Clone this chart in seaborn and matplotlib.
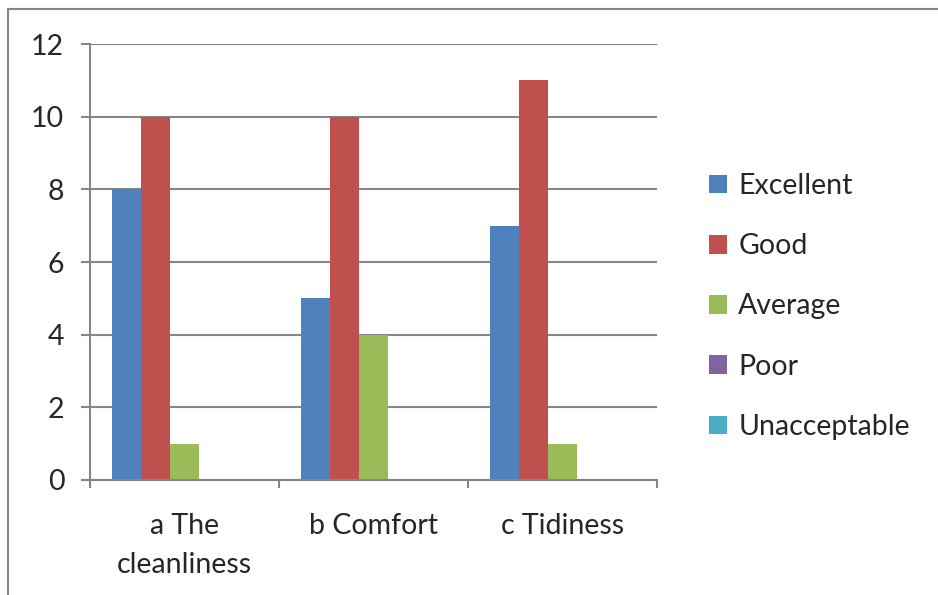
import matplotlib
matplotlib.use('Agg')
import matplotlib.pyplot as plt
import seaborn as sns
import pandas as pd
from matplotlib.patches import Rectangle

categories = ['a The\ncleanliness', 'b Comfort', 'c Tidiness']
series = ['Excellent', 'Good', 'Average', 'Poor', 'Unacceptable']
excellent = [8, 5, 7]
good = [10, 10, 11]
average = [1, 4, 1]
poor = [0, 0, 0]
unacceptable = [0, 0, 0]
colors = ['#4F81BD', '#C0504D', '#9BBB59', '#8064A2', '#4BACC6']

values = [excellent, good, average, poor, unacceptable]
rows = []
for name, vals in zip(series, values):
    for cat, v in zip(categories, vals):
        rows.append({'Category': cat, 'Rating': name, 'Count': v})
data = pd.DataFrame(rows)

sns.set_style('white')
plt.rcParams['font.family'] = ['Lato', 'DejaVu Sans']
grid_color = '#868686'
fs = 20.5

fig = plt.figure(figsize=(9.38, 5.95), dpi=100)
ax = fig.add_axes([90 / 938, 1 - 480 / 595, (657 - 90) / 938, (480 - 44) / 595])

sns.barplot(data=data, x='Category', y='Count', hue='Rating',
            hue_order=series, palette=colors, width=5 / 6.5,
            saturation=1, edgecolor='none', linewidth=0, ax=ax)

ax.set_xlim(-0.5, 2.5)
ax.set_ylim(0, 12)
ax.set_yticks(range(0, 13, 2))
ax.set_xlabel('')
ax.set_ylabel('')
ax.set_axisbelow(True)
ax.grid(axis='y', color=grid_color, linewidth=1.5)
ax.grid(axis='x', visible=False)

for side in ['top', 'right']:
    ax.spines[side].set_visible(False)
for side in ['left', 'bottom']:
    ax.spines[side].set_color(grid_color)
    ax.spines[side].set_linewidth(1.5)

# category separators as minor ticks
ax.set_xticks([-0.5, 0.5, 1.5, 2.5], minor=True)
ax.tick_params(axis='x', which='minor', length=6, width=1.5, color=grid_color,
               direction='out', bottom=True)
ax.tick_params(axis='x', which='major', length=0, pad=24, labelsize=fs)
ax.tick_params(axis='y', length=6.5, width=1.5, color=grid_color, left=True,
               pad=12, labelsize=fs)
for lbl in ax.get_xticklabels():
    lbl.set_linespacing(1.6)

handles, labels = ax.get_legend_handles_labels()
ax.legend(handles, labels, loc='center left',
          bbox_to_anchor=(709 / 938, 1 - 306.5 / 595),
          bbox_transform=fig.transFigure, frameon=False, fontsize=fs,
          handlelength=0.63, handleheight=0.63, handletextpad=0.4,
          labelspacing=1.2, borderpad=0, borderaxespad=0)

# outer chart border
fig.patches.append(Rectangle((8 / 938, -0.05), 1.0, 1 - 9 / 595 + 0.05,
                             transform=fig.transFigure, fill=False,
                             edgecolor=grid_color, linewidth=1.5))

fig.savefig('out.png', dpi=100)
plt.close(fig)
